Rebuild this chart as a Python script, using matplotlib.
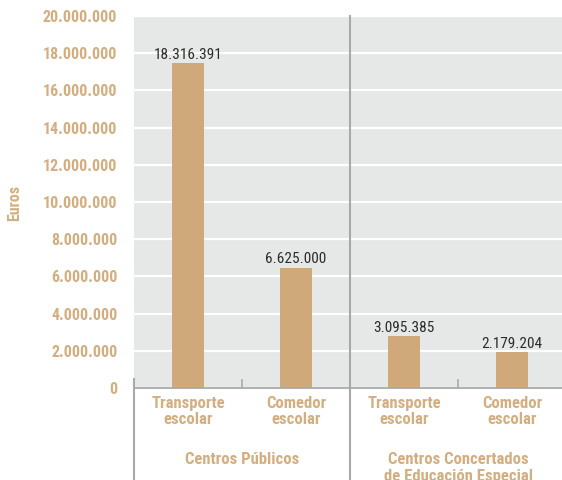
import matplotlib
matplotlib.use("Agg")
import matplotlib.pyplot as plt
import matplotlib.transforms as mtransforms

# Datos
categorias = ["Transporte\nescolar", "Comedor\nescolar", "Transporte\nescolar", "Comedor\nescolar"]
grupos = ["Centros Públicos", "Centros Concertados\nde Educación Especial"]
# altura de las barras tal como están dibujadas
alturas = [17_480_000, 6_470_000, 2_810_000, 1_950_000]
# cifras rotuladas sobre las barras
etiquetas = ["18.316.391", "6.625.000", "3.095.385", "2.179.204"]
ticks_y = list(range(0, 20_000_001, 2_000_000))

COLOR_BARRA = "#cfa979"
COLOR_TEXTO = "#d3ae80"
COLOR_FONDO = "#e6e7e7"
COLOR_LINEA = "#a9a9a9"

plt.rcParams["font.family"] = ["Roboto Condensed", "DejaVu Sans"]

fig = plt.figure(figsize=(5.62, 4.8), dpi=100)
ax = fig.add_axes([134 / 562, 92 / 480, 432 / 562, 372 / 480])
ax.set_facecolor(COLOR_FONDO)

x = list(range(len(categorias)))
barras = ax.bar(x, alturas, width=0.305, color=COLOR_BARRA, zorder=2)

for b, txt in zip(barras, etiquetas):
    ax.annotate(txt, (b.get_x() + b.get_width() / 2, b.get_height()),
                xytext=(0, 3), textcoords="offset points",
                ha="center", va="baseline", fontsize=11, color="#2b2b2b")

ax.set_xlim(-0.5, 3.5)
ax.set_ylim(0, 20_000_000)
ax.set_yticks(ticks_y)
ax.set_yticklabels([f"{v:,}".replace(",", ".") for v in ticks_y],
                   fontweight="bold", fontsize=11.5, color=COLOR_TEXTO)
ax.tick_params(axis="y", length=0, pad=12)
ax.set_xticks([])
ax.yaxis.grid(True, color="white", linewidth=1.6)
ax.set_axisbelow(True)

for lado in ["left", "right", "top"]:
    ax.spines[lado].set_visible(False)
ax.spines["bottom"].set_color(COLOR_LINEA)
ax.spines["bottom"].set_linewidth(1.3)

trans = mtransforms.blended_transform_factory(ax.transData, ax.transAxes)

# rótulos de categoría
for xi, cat in zip(x, categorias):
    ax.text(xi, -0.022, cat, transform=trans, ha="center", va="top",
            fontweight="bold", fontsize=12, color=COLOR_TEXTO, linespacing=1.1)

# rótulos de grupo
for xi, g in zip([0.5, 2.5], grupos):
    ax.text(xi, -0.171, g, transform=trans, ha="center", va="top",
            fontweight="bold", fontsize=12, color=COLOR_TEXTO, linespacing=1.2)

# líneas separadoras
ax.plot([-0.5, -0.5], [0.024, -0.26], transform=trans, color=COLOR_LINEA,
        linewidth=1.5, clip_on=False, zorder=3)
ax.plot([1.5, 1.5], [1.0, -0.26], transform=trans, color=COLOR_LINEA,
        linewidth=1.5, clip_on=False, zorder=3)
for xi in [0.5, 2.5]:
    ax.plot([xi, xi], [0, 0.022], transform=trans, color=COLOR_LINEA,
            linewidth=1.2, clip_on=False, zorder=3)

fig.text(15 / 562, 1 - 203 / 480, "Euros", rotation=90, ha="center", va="center",
         fontweight="bold", fontsize=11.5, color=COLOR_TEXTO)

fig.savefig("out.png", dpi=100)
